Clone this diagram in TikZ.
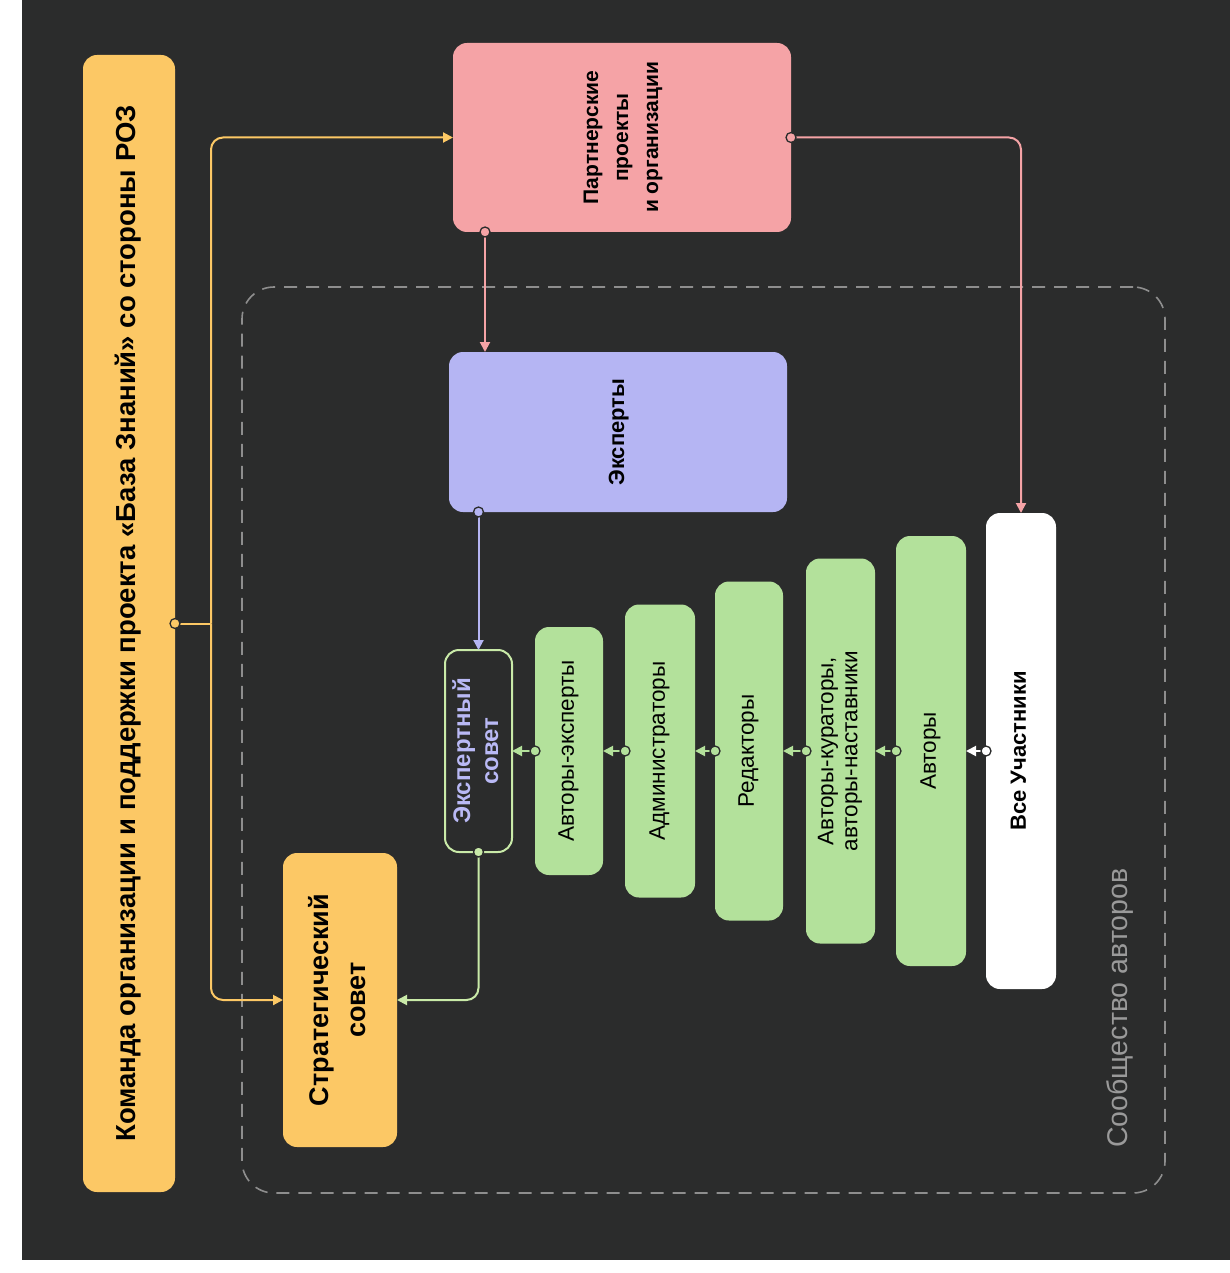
\documentclass[tikz,border=0pt]{standalone}
\usepackage{fontspec}
\setmainfont{Liberation Sans}
\usetikzlibrary{arrows.meta,calc}
\definecolor{bg}{HTML}{2B2C2C}
\definecolor{yl}{HTML}{FCC865}
\definecolor{pk}{HTML}{F5A3A6}
\definecolor{lv}{HTML}{B5B5F3}
\definecolor{gr}{HTML}{B3E19B}
\definecolor{grline}{HTML}{C9EAA8}
\definecolor{lvtext}{HTML}{B9B9F5}
\definecolor{dashgray}{HTML}{8E8E8E}
\definecolor{labgray}{HTML}{9A9A9A}
\newcommand{\vtext}[1]{\rotatebox{90}{\begin{tabular}{@{}c@{}}#1\end{tabular}}}
\newcommand{\vtextshift}[2]{\rotatebox{90}{\raisebox{#1}{\begin{tabular}{@{}c@{}}#2\end{tabular}}}}
\begin{document}
\begin{tikzpicture}[x=1pt,y=-1pt,
  box/.style={rounded corners=14pt,inner sep=0pt,outer sep=0pt,align=center,text=black},
  conn/.style={line width=2pt},
  tip/.style={-{Triangle[length=10pt,width=10pt]}},
  pindot/.style={circle,fill=#1,draw=bg,line width=1.3pt,minimum size=10pt,inner sep=0pt},
]
\useasboundingbox (0,0) rectangle (1230,1273);
\fill[white] (0,0) rectangle (1230,1273);
\fill[bg] (22,0) rectangle (1230,1260);

% community frame
\node[draw=dashgray, dash pattern=on 13pt off 9pt, line width=1.6pt, rounded corners=32pt,
  minimum width=923pt, minimum height=906pt, inner sep=0pt] (community) at (703.5,740) {};
\node[rotate=90, anchor=west, text=labgray, inner sep=0pt, font=\fontsize{28.5}{30}\selectfont] (commlabel) at (1120,1148) {Сообщество авторов};

% boxes
\node[box, fill=yl, minimum width=92pt, minimum height=1137pt, font=\fontsize{27.5}{30}\selectfont\bfseries] (team) at (129,623.5)
  {\vtext{Команда организации и поддержки проекта «База Знаний» со стороны РОЗ}};
\node[box, fill=pk, minimum width=338pt, minimum height=189pt, font=\fontsize{21}{30}\selectfont\bfseries] (partner) at (622,137.5)
  {\vtextshift{-5pt}{Партнерские\\ проекты\\ и организации}};
\node[box, fill=lv, minimum width=338pt, minimum height=160pt, font=\fontsize{22}{30}\selectfont\bfseries] (experts) at (618,432)
  {\vtext{Эксперты}};
\node[box, fill=bg, draw=grline, line width=2pt, minimum width=67pt, minimum height=202pt, text=lvtext, font=\fontsize{24}{28}\selectfont\bfseries] (excouncil) at (478.5,751)
  {\vtextshift{-4pt}{Экспертный\\ совет}};
\node[box, fill=yl, minimum width=114pt, minimum height=294pt, font=\fontsize{27}{37}\selectfont\bfseries] (strategic) at (340,1000)
  {\vtextshift{-5pt}{Стратегический\\ совет}};

\node[box, fill=gr, minimum width=68pt, minimum height=248pt, font=\fontsize{22.5}{24}\selectfont] (g1) at (569,751)
  {\vtext{Авторы-эксперты}};
\node[box, fill=gr, minimum width=70pt, minimum height=293pt, font=\fontsize{22.5}{24}\selectfont] (g2) at (660,751)
  {\vtext{Администраторы}};
\node[box, fill=gr, minimum width=68pt, minimum height=339pt, font=\fontsize{22.5}{24}\selectfont] (g3) at (749,751)
  {\vtext{Редакторы}};
\node[box, fill=gr, minimum width=69pt, minimum height=385pt, font=\fontsize{22.5}{24}\selectfont] (g4) at (840.5,751)
  {\vtextshift{-2pt}{Авторы-кураторы,\\ авторы-наставники}};
\node[box, fill=gr, minimum width=70pt, minimum height=430pt, font=\fontsize{22.5}{24}\selectfont] (g5) at (931,751)
  {\vtext{Авторы}};
\node[box, fill=white, minimum width=70pt, minimum height=476pt, font=\fontsize{22}{24}\selectfont\bfseries] (all) at (1021,751)
  {\vtext{Все Участники}};

% yellow connectors
\coordinate (ysplit) at (211,623.5);
\draw[conn, yl] (team.east) -- (ysplit);
\draw[conn, yl, tip, rounded corners=12pt] (ysplit) |- (partner.west);
\draw[conn, yl, tip, rounded corners=12pt] (ysplit) |- (strategic.west);
\node[pindot=yl] (dteam) at (team.east) {};

% pink connectors
\draw[conn, pk, tip] ([xshift=32pt]partner.south west) -- ([xshift=36pt]experts.north west);
\draw[conn, pk, tip, rounded corners=12pt] (partner.east) -| (all.north);
\node[pindot=pk] (dpart1) at ([xshift=32pt]partner.south west) {};
\node[pindot=pk] (dpart2) at (partner.east) {};

% lavender connector
\draw[conn, lv, tip] ([xshift=29.5pt]experts.south west) -- (excouncil.north);
\node[pindot=lv] (dexp) at ([xshift=29.5pt]experts.south west) {};

% green connector to strategic
\draw[conn, grline, tip, rounded corners=12pt] (excouncil.south) |- (strategic.east);
\node[pindot=grline] (dexc) at (excouncil.south) {};

% chain
\draw[conn, gr, tip] (g1.west) -- (excouncil.east);
\draw[conn, gr, tip] (g2.west) -- (g1.east);
\draw[conn, gr, tip] (g3.west) -- (g2.east);
\draw[conn, gr, tip] (g4.west) -- (g3.east);
\draw[conn, gr, tip] (g5.west) -- (g4.east);
\draw[conn, white, tip] (all.west) -- (g5.east);
\node[pindot=gr] (dg1) at (g1.west) {};
\node[pindot=gr] (dg2) at (g2.west) {};
\node[pindot=gr] (dg3) at (g3.west) {};
\node[pindot=gr] (dg4) at (g4.west) {};
\node[pindot=gr] (dg5) at (g5.west) {};
\node[pindot=white] (dall) at (all.west) {};
\end{tikzpicture}
\end{document}
